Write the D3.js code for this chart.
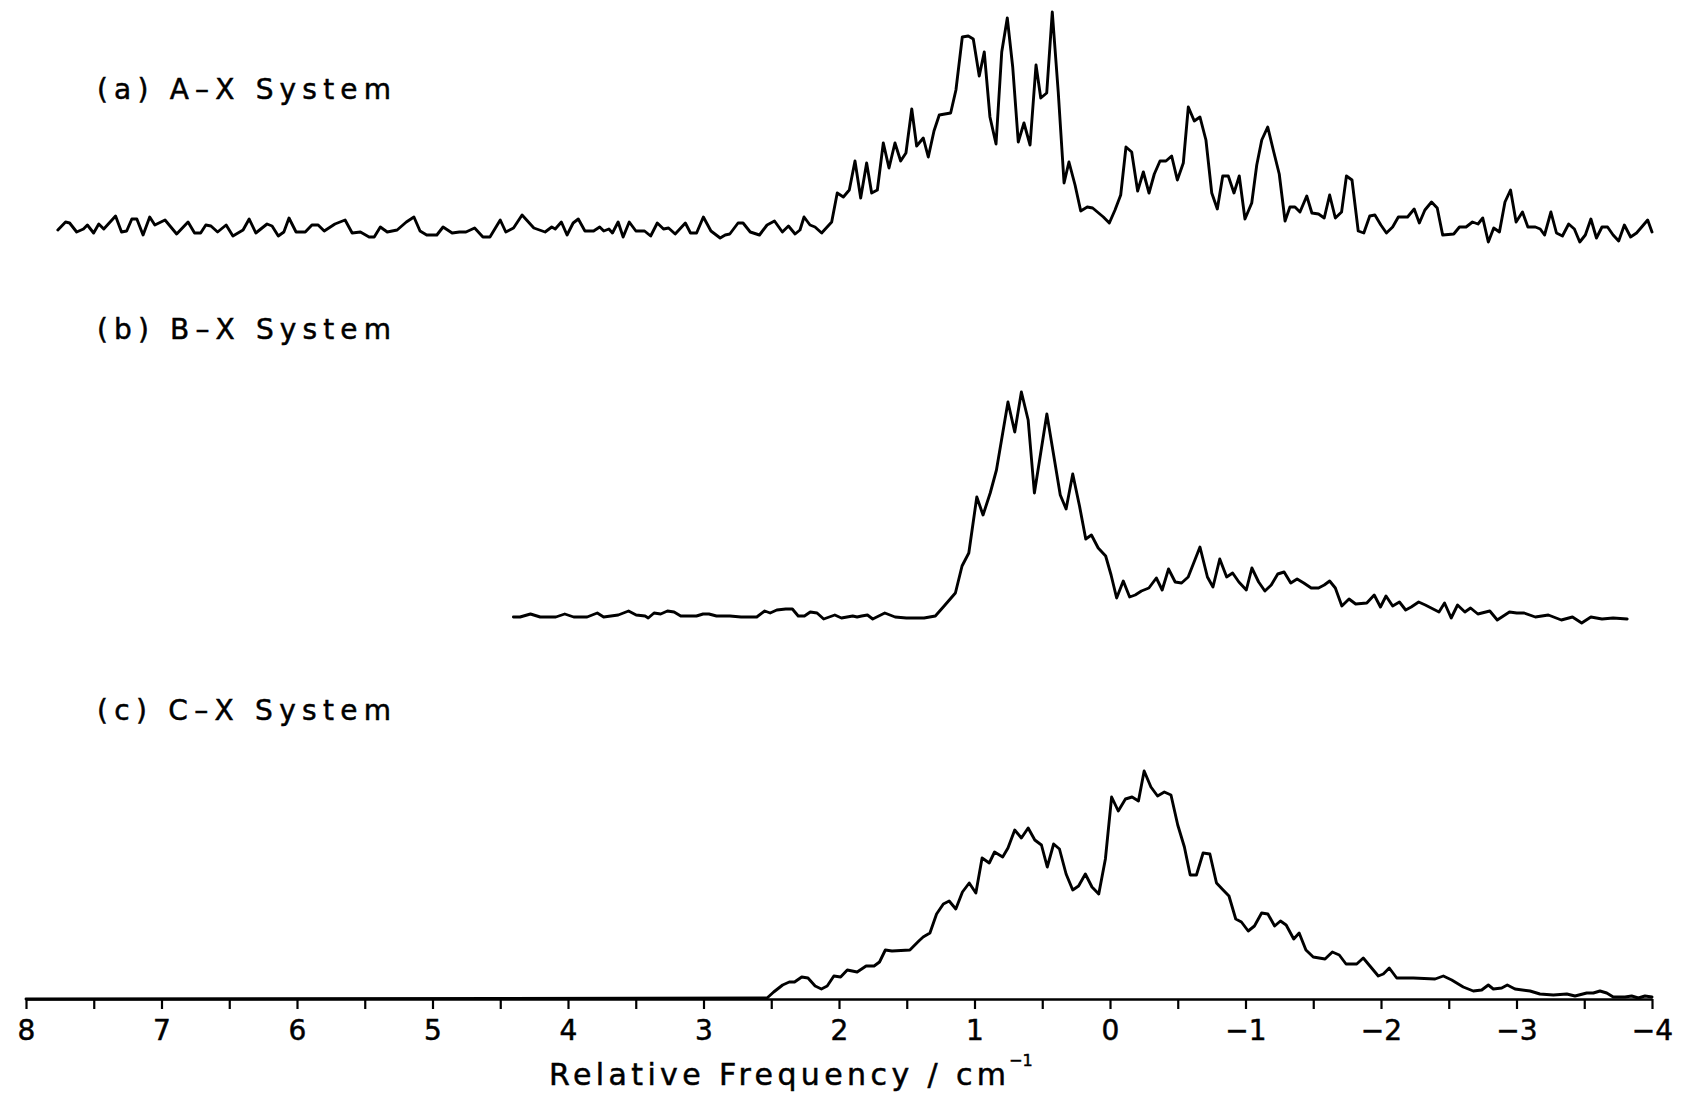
<!DOCTYPE html>
<html>
<head>
<meta charset="utf-8">
<title>Relative Frequency spectra</title>
<script src="https://cdn.jsdelivr.net/npm/d3@7"></script>
<style>
    body { margin: 0; background: #fff; }
    svg { display: block; }
    .trace { fill: none; stroke: #000; stroke-width: 2.9; stroke-linejoin: round; stroke-linecap: round; }
    text { font-family: "DejaVu Sans", "Liberation Sans", sans-serif; fill: #000; stroke: #000; stroke-width: 0.5; }
</style>
</head>
<body>
<script>
// (a) A-X system: frequency (cm-1) and intensity (arb. units)
const freqA = [7.765, 7.708, 7.678, 7.626, 7.576, 7.547, 7.501, 7.463, 7.426, 7.339, 7.295, 7.257, 7.219, 7.182, 7.136, 7.087, 7.049, 6.974, 6.888, 6.804,
    6.756, 6.711, 6.673, 6.635, 6.586, 6.523, 6.473, 6.398, 6.353, 6.304, 6.221, 6.184, 6.138, 6.097, 6.059, 6.007, 5.939, 5.890, 5.844, 5.799,
    5.720, 5.645, 5.593, 5.532, 5.468, 5.430, 5.385, 5.334, 5.261, 5.193, 5.137, 5.092, 5.043, 4.968, 4.922, 4.855, 4.801, 4.753, 4.689, 4.628,
    4.576, 4.500, 4.459, 4.402, 4.339, 4.252, 4.169, 4.120, 4.094, 4.049, 4.007, 3.962, 3.924, 3.875, 3.811, 3.766, 3.736, 3.698, 3.672, 3.630,
    3.593, 3.548, 3.499, 3.435, 3.390, 3.341, 3.295, 3.258, 3.209, 3.134, 3.096, 3.051, 3.001, 2.945, 2.877, 2.840, 2.806, 2.745, 2.708, 2.655,
    2.587, 2.531, 2.476, 2.418, 2.373, 2.324,
    2.288, 2.258, 2.214, 2.177, 2.128, 2.054, 2.013, 1.968, 1.924, 1.882, 1.840, 1.796, 1.759, 1.717, 1.673, 1.631, 1.587, 1.545, 1.506, 1.463,
    1.427, 1.378, 1.341, 1.299, 1.260, 1.176, 1.137, 1.090, 1.046, 1.009, 0.965, 0.928, 0.886, 0.841, 0.799, 0.758, 0.718, 0.677, 0.635, 0.590,
    0.546, 0.511, 0.467, 0.426, 0.382, 0.339, 0.303, 0.258, 0.216, 0.168, 0.128, 0.049, 0.005, -0.037, -0.079, -0.118, -0.160, -0.204, -0.246, -0.288,
    -0.327, -0.369, -0.413, -0.455, -0.497, -0.541, -0.578, -0.622, -0.664, -0.708, -0.751, -0.792, -0.832, -0.873, -0.915, -0.954, -0.996, -1.046, -1.083, -1.120,
    -1.164, -1.205, -1.249, -1.292, -1.328, -1.365, -1.402,
    -1.452, -1.490, -1.539, -1.581, -1.621, -1.663, -1.709, -1.745, -1.786, -1.832, -1.873, -1.917, -1.955, -1.999, -2.040, -2.086, -2.128, -2.196, -2.245, -2.283,
    -2.324, -2.373, -2.415, -2.455, -2.537, -2.579, -2.628, -2.675, -2.716, -2.751, -2.792, -2.832, -2.874, -2.915, -2.956, -2.997, -3.044, -3.084, -3.139, -3.175,
    -3.207, -3.254, -3.295, -3.339, -3.385, -3.427, -3.467, -3.508, -3.549, -3.590, -3.631, -3.672, -3.713, -3.754, -3.796, -3.842, -3.886, -3.924, -3.968, -4.000];
const intA = [10, 18, 17, 8, 11, 15, 7, 16, 11, 24, 8, 9, 21, 21, 5, 23, 15, 20, 6, 18,
    7, 7, 15, 14, 8, 15, 4, 10, 21, 7, 16, 14, 4, 8, 22, 8, 8, 15, 15, 9,
    16, 20, 7, 8, 3, 3, 13, 8, 10, 18, 23, 9, 5, 5, 13, 7, 8, 8, 12, 3,
    3, 20, 8, 12, 25, 12, 8, 13, 11, 18, 5, 17, 21, 9, 9, 13, 9, 11, 7, 18,
    3, 18, 9, 9, 4, 17, 11, 12, 6, 17, 7, 7, 23, 9, 2, 5, 6, 17, 17, 8,
    5, 15, 19, 8, 14, 6,
    10, 23, 15, 13, 7, 18, 47, 43, 50, 79, 42, 77, 47, 50, 97, 72, 97, 79, 87, 131,
    94, 102, 83, 109, 125, 127, 150, 203, 204, 201, 164, 188, 123, 96, 188, 222, 173, 98, 117, 95,
    175, 142, 147, 228, 148, 57, 78, 55, 29, 33, 32, 23, 17, 30, 45, 93, 88, 49, 68, 47,
    66, 79, 79, 84, 60, 77, 133, 119, 123, 100, 47, 31, 64, 64, 47, 64, 21, 37, 75, 100,
    113, 90, 66, 19, 33, 33, 28,
    44, 27, 26, 22, 45, 22, 28, 64, 60, 9, 7, 24, 25, 15, 7, 13, 23, 23, 31, 17,
    30, 38, 32, 5, 6, 13, 13, 18, 16, 22, -2, 12, 8, 38, 50, 18, 28, 13, 13, 11,
    5, 28, 7, 4, 16, 11, -2, 5, 21, 2, 13, 13, 5, -1, 15, 3, 7, 13, 20, 8];

// (b) B-X system
const freqB = [4.403, 4.354, 4.277, 4.205, 4.090, 4.024, 3.958, 3.859, 3.784, 3.737, 3.629, 3.553, 3.497, 3.431, 3.408, 3.365, 3.316, 3.266, 3.217, 3.168,
    3.052, 3.003, 2.960, 2.904, 2.805, 2.723, 2.673, 2.607, 2.548, 2.508, 2.459, 2.393, 2.344, 2.301, 2.255, 2.212, 2.162, 2.113, 2.031, 1.982,
    1.899, 1.866, 1.833, 1.790, 1.751, 1.662, 1.586, 1.503, 1.372, 1.289, 1.224, 1.141, 1.092, 1.042, 0.983, 0.937, 0.884, 0.838, 0.753, 0.703,
    0.654, 0.604, 0.558, 0.466, 0.367, 0.324, 0.275, 0.225, 0.179, 0.137, 0.087, 0.032, -0.008, -0.049, -0.098, -0.145, -0.186, -0.232, -0.287, -0.342,
    -0.385, -0.432, -0.481, -0.528, -0.577, -0.664, -0.719, -0.760, -0.810, -0.861, -0.905, -0.951, -1.006, -1.047, -1.097, -1.143, -1.190, -1.238, -1.285, -1.334,
    -1.381, -1.430, -1.485, -1.539, -1.581, -1.621, -1.663, -1.711, -1.764, -1.813, -1.895, -1.950, -1.996, -2.037, -2.086, -2.136, -2.182, -2.223, -2.278, -2.327,
    -2.428, -2.469, -2.518, -2.565, -2.619, -2.661, -2.715, -2.803, -2.858, -2.948, -3.002, -3.057, -3.139, -3.235, -3.331, -3.413, -3.481, -3.549, -3.631, -3.713,
    -3.817];
const intB = [8, 8, 11, 8, 8, 11, 8, 8, 12, 8, 10, 14, 10, 9, 7, 12, 11, 14, 13, 9,
    9, 11, 11, 9, 9, 8, 8, 8, 14, 12, 15, 16, 16, 9, 9, 13, 12, 6, 10, 7,
    9, 8, 9, 10, 6, 12, 8, 7, 7, 9, 19, 32, 59, 72, 128, 110, 132, 155, 223, 193,
    233, 205, 132, 211, 130, 116, 151, 119, 86, 90, 77, 69, 50, 27, 44, 28, 30, 34, 37, 47,
    35, 56, 43, 42, 48, 78, 48, 38, 66, 48, 52, 43, 35, 57, 43, 34, 40, 51, 53, 42,
    46, 42, 37, 37, 40, 44, 37, 19, 26, 21, 22, 30, 18, 29, 19, 23, 15, 18, 23, 20,
    13, 22, 7, 20, 13, 17, 11, 14, 5, 13, 12, 12, 8, 10, 5, 8, 2, 8, 6, 7,
    6];

// (c) C-X system
const freqC = [8.000, 2.531, 2.482, 2.416, 2.367, 2.328, 2.275, 2.229, 2.176, 2.130, 2.087, 2.038, 1.988, 1.939, 1.866, 1.800, 1.741, 1.701, 1.658, 1.609,
    1.477, 1.411, 1.379, 1.329, 1.280, 1.230, 1.187, 1.138, 1.089, 1.039, 0.990, 0.944, 0.891, 0.852, 0.792, 0.753, 0.703, 0.654, 0.604, 0.555,
    0.506, 0.463, 0.416, 0.373, 0.324, 0.275, 0.232, 0.182, 0.133, 0.083, 0.034, -0.012, -0.061, -0.114, -0.163, -0.210, -0.252, -0.302, -0.351, -0.401,
    -0.450, -0.500, -0.549, -0.592, -0.638, -0.687, -0.737, -0.786, -0.835, -0.878, -0.928, -0.970, -1.020, -1.066, -1.119, -1.165, -1.215, -1.258, -1.300, -1.356,
    -1.396, -1.446, -1.500, -1.587, -1.641, -1.692, -1.742, -1.821, -1.869, -1.980, -2.017, -2.061, -2.116, -2.238, -2.399, -2.460, -2.522, -2.607, -2.681, -2.743,
    -2.792, -2.829, -2.891, -2.932, -2.989, -3.100, -3.173, -3.272, -3.371, -3.432, -3.518, -3.567, -3.616, -3.666, -3.714, -3.801, -3.850, -3.899, -3.948, -4.000];
const intC = [0, 1, 7, 14, 17, 17, 22, 21, 13, 10, 13, 23, 22, 29, 27, 33, 33, 37, 49, 48,
    49, 58, 62, 66, 85, 95, 98, 90, 107, 116, 106, 141, 136, 147, 142, 151, 169, 161, 171, 159,
    154, 132, 155, 150, 125, 109, 113, 125, 112, 105, 140, 202, 188, 200, 202, 198, 228, 212, 203, 207,
    204, 174, 152, 124, 124, 146, 145, 116, 109, 103, 80, 77, 68, 73, 86, 85, 73, 78, 74, 60,
    66, 49, 42, 40, 47, 44, 35, 35, 41, 23, 25, 31, 21, 21, 20, 23, 19, 12, 8, 9,
    14, 10, 11, 14, 10, 8, 5, 4, 5, 3, 6, 6, 8, 6, 2, 2, 3, 1, 3, 2];

const panelLabels = ["(a) A\u2013X System", "(b) B\u2013X System", "(c) C\u2013X System"];
const tickValues = [8, 7.5, 7, 6.5, 6, 5.5, 5, 4.5, 4, 3.5, 3, 2.5, 2, 1.5, 1, 0.5, 0, -0.5, -1, -1.5, -2, -2.5, -3, -3.5, -4];
const axisTitle = "Relative Frequency / cm";
const axisTitleExp = "\u22121";

const sp = {};
sp.width = 1681;
sp.height = 1097;

/**
 * Create the SVG
 */
sp.createSVG = () => {
    sp.svg = d3.select("body")
        .append("svg")
        .attr("width", sp.width)
        .attr("height", sp.height);
}

/**
 * Draw one spectrum with its label
 * @param p: panel config (data arrays, zero line, label baseline)
 */
sp.drawPanel = (p) => {
    const y = d3.scaleLinear().domain([0, 230]).range([p.zero, p.zero - 230]);
    const line = d3.line()
        .x(d => sp.xScale(d[0]))
        .y(d => y(d[1]));

    sp.svg.append("path")
        .datum(d3.zip(p.freq, p.value))
        .attr("class", "trace")
        .attr("d", line);

    sp.svg.append("text")
        .attr("x", 97)
        .attr("y", p.labelY)
        .attr("font-size", 28)
        .attr("textLength", 294)
        .attr("lengthAdjust", "spacing")
        .text(p.label);
}

/**
 * Bottom axis, integer ticks labelled, half ticks bare
 */
sp.drawXAxis = () => {
    const fmt = d => Number.isInteger(d) ? (d < 0 ? "\u2212" + (-d) : String(d)) : "";
    const g = sp.svg.append("g")
        .attr("transform", "translate(0," + sp.axisY + ")")
        .call(d3.axisBottom(sp.xScale)
            .tickValues(tickValues)
            .tickSize(10)
            .tickSizeOuter(0)
            .tickPadding(11)
            .tickFormat(fmt));

    g.attr("font-size", 28).attr("font-family", null);
    g.select(".domain").attr("stroke-width", 2.6);
    g.selectAll(".tick line").attr("stroke-width", 2.2);
}

sp.drawTitle = () => {
    sp.svg.append("text")
        .attr("x", 549)
        .attr("y", 1085)
        .attr("font-size", 30)
        .attr("textLength", 457)
        .attr("lengthAdjust", "spacing")
        .text(axisTitle);

    sp.svg.append("text")
        .attr("x", 1009)
        .attr("y", 1066)
        .attr("font-size", 16)
        .text(axisTitleExp);
}

sp.createSVG();
sp.xScale = d3.scaleLinear().domain([8, -4]).range([26, 1652]);
sp.axisY = 999;

[
    { label: panelLabels[0], freq: freqA, value: intA, zero: 240, labelY: 99 },
    { label: panelLabels[1], freq: freqB, value: intB, zero: 625, labelY: 339 },
    { label: panelLabels[2], freq: freqC, value: intC, zero: sp.axisY, labelY: 720 }
].forEach(p => sp.drawPanel(p));

sp.drawXAxis();
sp.drawTitle();
</script>
</body>
</html>
